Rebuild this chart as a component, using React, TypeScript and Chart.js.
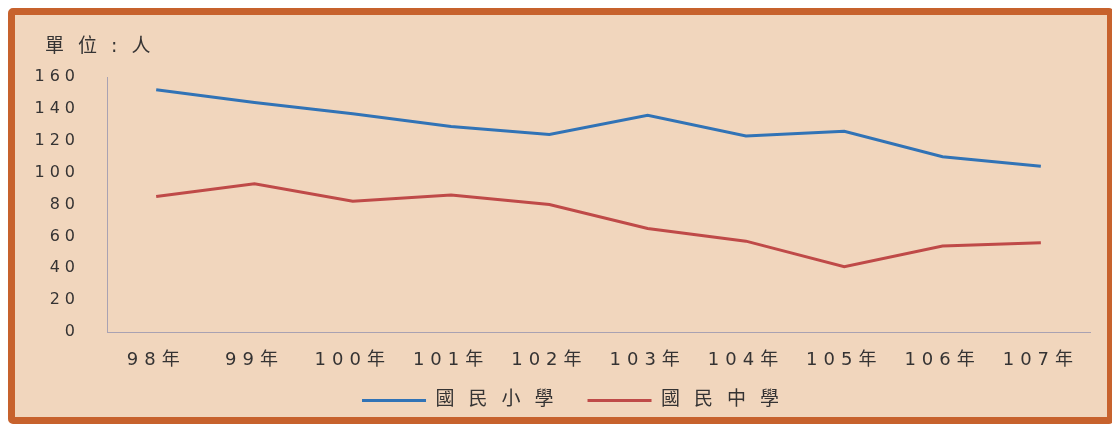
import React, { useEffect, useRef } from "react";
import { Chart, registerables } from "chart.js";

Chart.register(...registerables);

const categories = ["98年", "99年", "100年", "101年", "102年", "103年", "104年", "105年", "106年", "107年"];
const elementaryLabel = "國民小學";
const juniorLabel = "國民中學";
const elementary = [152, 144, 137, 129, 124, 136, 123, 126, 110, 104];
const junior = [85, 93, 82, 86, 80, 65, 57, 41, 54, 56];
const unitLabel = "單位:人";
const yMin = 0;
const yMax = 160;
const yStep = 20;

const FONT = '"DejaVu Sans", "Noto Sans CJK TC", sans-serif';
const TEXT = "#353333";
const BLUE = "#3173b6";
const RED = "#bf4a48";
const AXIS = "#a9a2b2";

// letter spacing per font size (px) to mimic the wide scanned type
const SPACING: Record<number, number> = { 16: 5, 18: 6, 19: 14 };

function spacingFor(font: string): number {
  const m = /(\d+(?:\.\d+)?)px/.exec(font);
  if (!m) return 0;
  return SPACING[parseFloat(m[1])] ?? 0;
}

const unitLabelPlugin = {
  id: "unitLabel",
  afterLayout(chart: any) {
    // nudge the bottom legend to sit where the original one sits
    const lg = chart.legend;
    if (lg) {
      lg.left -= 21;
      lg.right -= 21;
    }
  },
  afterDraw(chart: any) {
    const { ctx, chartArea } = chart;
    ctx.save();
    ctx.font = `19px ${FONT}`;
    ctx.fillStyle = TEXT;
    ctx.textAlign = "left";
    ctx.textBaseline = "middle";
    ctx.fillText(unitLabel, chartArea.left - 62, chartArea.top - 30);
    ctx.restore();
  },
};

export default function App() {
  const ref = useRef<HTMLCanvasElement | null>(null);

  useEffect(() => {
    const canvas = ref.current;
    if (!canvas) return;
    const ctx: any = canvas.getContext("2d");
    const origFill = ctx.fillText.bind(ctx);
    const origMeasure = ctx.measureText.bind(ctx);
    ctx.fillText = (text: string, x: number, y: number, maxWidth?: number) => {
      ctx.letterSpacing = spacingFor(ctx.font) + "px";
      if (maxWidth === undefined || maxWidth === null || !(maxWidth > 0)) origFill(text, x, y);
      else origFill(text, x, y, maxWidth);
      ctx.letterSpacing = "0px";
    };
    ctx.measureText = (text: string) => {
      ctx.letterSpacing = spacingFor(ctx.font) + "px";
      const r = origMeasure(text);
      ctx.letterSpacing = "0px";
      return r;
    };

    const chart = new Chart(canvas, {
      type: "line",
      data: {
        labels: categories,
        datasets: [
          {
            label: elementaryLabel,
            data: elementary,
            borderColor: BLUE,
            backgroundColor: BLUE,
            borderWidth: 3,
            pointRadius: 0,
            tension: 0,
          },
          {
            label: juniorLabel,
            data: junior,
            borderColor: RED,
            backgroundColor: RED,
            borderWidth: 3,
            pointRadius: 0,
            tension: 0,
          },
        ],
      },
      options: {
        responsive: false,
        animation: false,
        layout: { padding: { left: 0.5, right: 17, top: 62, bottom: -3 } },
        plugins: {
          tooltip: { enabled: false },
          legend: {
            position: "bottom",
            fullSize: false,
            labels: {
              usePointStyle: true,
              pointStyle: "line",
              pointStyleWidth: 64,
              color: TEXT,
              font: { family: FONT, size: 19 },
              padding: 20,
            },
          },
        },
        scales: {
          x: {
            offset: true,
            grid: { display: false },
            border: { display: true, color: AXIS, width: 1 },
            ticks: { color: TEXT, font: { family: FONT, size: 18 }, padding: 10, maxRotation: 0, autoSkip: false },
            afterFit: (scale: any) => {
              scale.height = 39;
            },
          },
          y: {
            min: yMin,
            max: yMax,
            grid: { display: false },
            border: { display: true, color: AXIS, width: 1 },
            ticks: { stepSize: yStep, color: TEXT, font: { family: FONT, size: 16 }, padding: 19 },
          },
        },
      },
      plugins: [unitLabelPlugin],
    });

    return () => {
      chart.destroy();
    };
  }, []);

  return (
    <div
      style={{
        width: 1092,
        height: 402,
        border: "7px solid #c7622d",
        borderRadius: 5,
        background: "#f1d6bd",
      }}
    >
      <canvas ref={ref} width={1092} height={402} style={{ display: "block" }} />
    </div>
  );
}
